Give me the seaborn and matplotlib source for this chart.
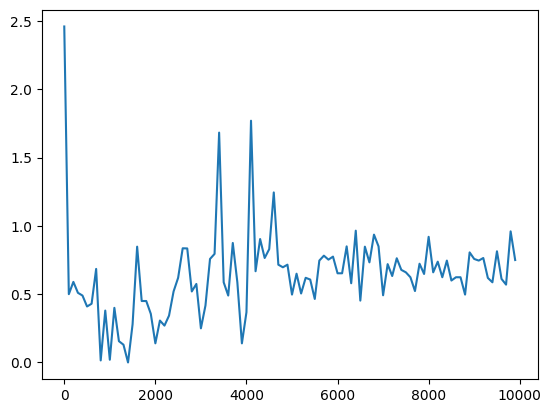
import numpy as np
import pandas as pd
import seaborn as sns
import matplotlib
matplotlib.use('Agg')
import matplotlib.pyplot as plt

# step index (every 100 iterations) and the recorded values
steps = list(range(0, 10000, 100))
values = [2.46, 0.50, 0.59, 0.51, 0.49, 0.41, 0.43, 0.685, 0.015, 0.38,
          0.02, 0.40, 0.156, 0.13, 0.0, 0.28, 0.848, 0.45, 0.45, 0.356,
          0.14, 0.307, 0.27, 0.343, 0.52, 0.62, 0.836, 0.835, 0.52, 0.575,
          0.25, 0.417, 0.758, 0.795, 1.683, 0.587, 0.49, 0.875, 0.587, 0.14,
          0.368, 1.77, 0.668, 0.904, 0.765, 0.83, 1.245, 0.716, 0.697, 0.716,
          0.497, 0.650, 0.505, 0.62, 0.607, 0.465, 0.746, 0.782, 0.753, 0.775,
          0.653, 0.653, 0.85, 0.58, 0.965, 0.453, 0.848, 0.733, 0.936, 0.85,
          0.492, 0.72, 0.633, 0.763, 0.678, 0.66, 0.624, 0.523, 0.723, 0.648,
          0.92, 0.66, 0.738, 0.624, 0.746, 0.6, 0.624, 0.624, 0.497, 0.806,
          0.758, 0.746, 0.765, 0.619, 0.587, 0.814, 0.612, 0.57, 0.96, 0.75]

df = pd.DataFrame({'step': steps, 'value': values})

fig, ax = plt.subplots(figsize=(6.4, 4.8), dpi=100)
sns.lineplot(data=df, x='step', y='value', color='#1f77b4', ax=ax)
ax.set_xlabel('')
ax.set_ylabel('')

fig.savefig('out.png', bbox_inches='tight')
